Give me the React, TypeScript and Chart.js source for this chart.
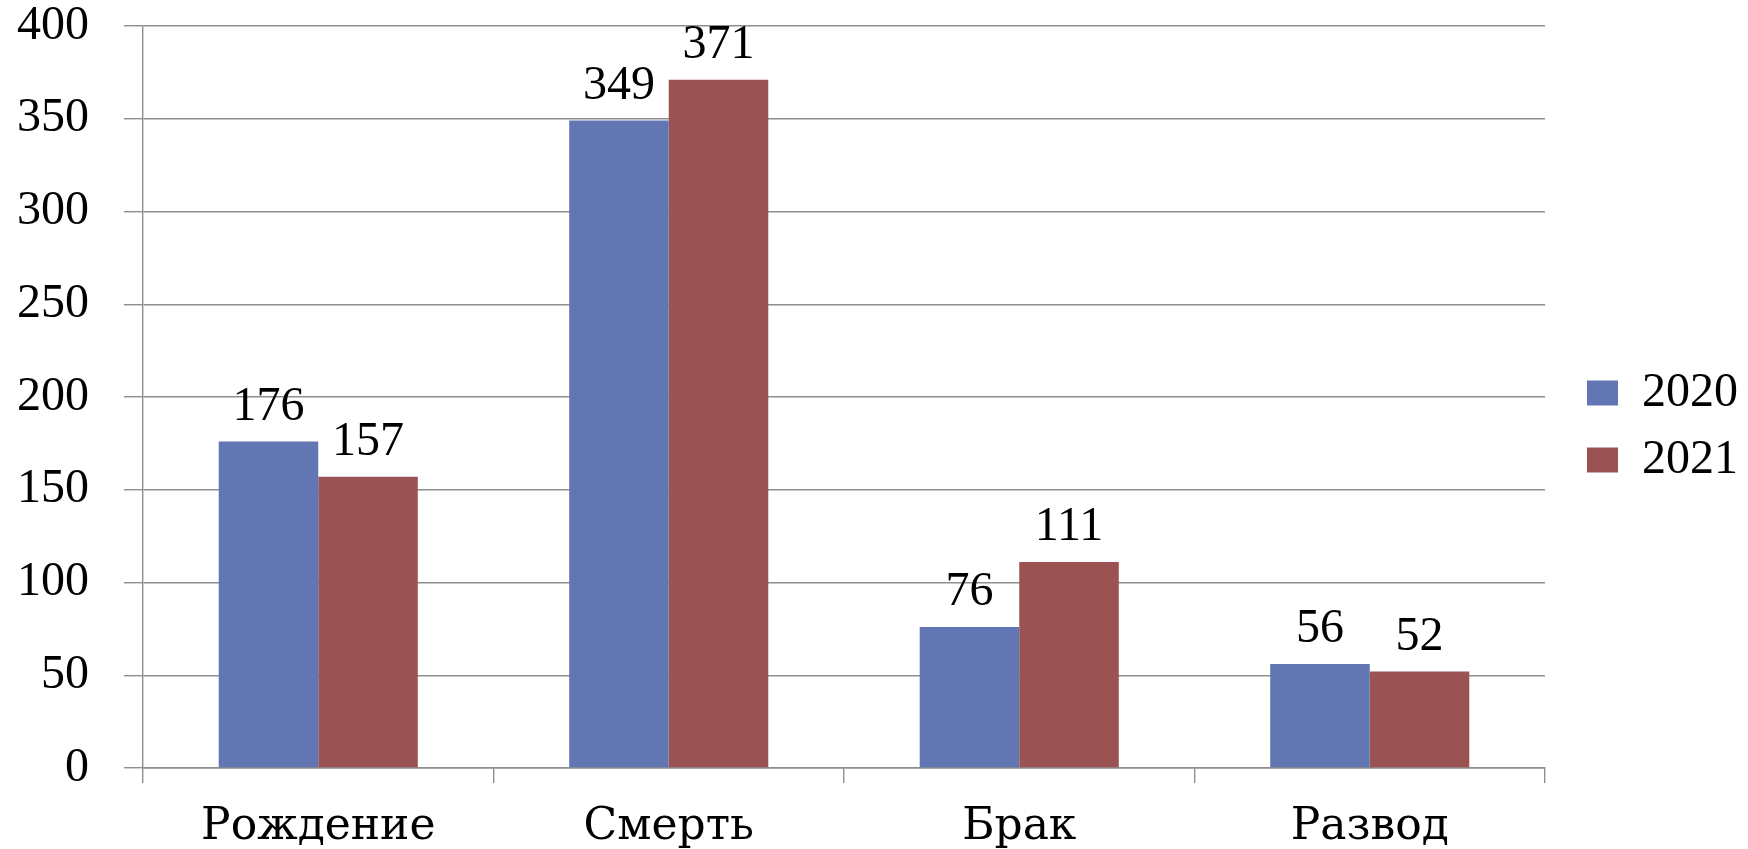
import React, { useEffect, useRef } from "react";
import { Chart, registerables } from "chart.js";

Chart.register(...registerables);

const categories = ["Рождение", "Смерть", "Брак", "Развод"];
const series2020 = [176, 349, 76, 56];
const series2021 = [157, 371, 111, 52];
const seriesLabels = ["2020", "2021"];
const yTicks = [0, 50, 100, 150, 200, 250, 300, 350, 400];

const CAT_FONT = "'DejaVu Serif', serif";
const NUM_FONT = "'Liberation Serif', serif";
const GRID = "#8e8e8e";

const valueLabels = {
  id: "valueLabels",
  afterDatasetsDraw(chart: any) {
    const ctx = chart.ctx;
    ctx.save();
    ctx.font = `48px ${NUM_FONT}`;
    ctx.fillStyle = "#000";
    ctx.textAlign = "center";
    ctx.textBaseline = "alphabetic";
    chart.data.datasets.forEach((ds: any, i: number) => {
      const meta = chart.getDatasetMeta(i);
      meta.data.forEach((bar: any, j: number) => {
        ctx.fillText(String(ds.data[j]), bar.x, bar.y - 22);
      });
    });
    ctx.restore();
  },
};

export default function App() {
  const ref = useRef<HTMLCanvasElement | null>(null);
  useEffect(() => {
    if (!ref.current) return;
    const chart = new Chart(ref.current, {
      type: "bar",
      data: {
        labels: categories,
        datasets: [
          { label: seriesLabels[0], data: series2020, backgroundColor: "#6176b3" },
          { label: seriesLabels[1], data: series2021, backgroundColor: "#9b5252" },
        ],
      },
      options: {
        animation: false,
        responsive: true,
        maintainAspectRatio: false,
        layout: { padding: { top: 4, left: 0, right: 0, bottom: 0 } },
        datasets: { bar: { categoryPercentage: 0.568, barPercentage: 1 } },
        plugins: {
          tooltip: { enabled: false },
          legend: {
            position: "right",
            align: "center",
            labels: {
              boxWidth: 31,
              boxHeight: 25,
              padding: 19,
              color: "#000",
              font: { family: NUM_FONT, size: 48 },
            },
          },
        },
        scales: {
          x: {
            grid: {
              offset: true,
              drawOnChartArea: false,
              drawTicks: true,
              tickLength: 15,
              color: GRID,
              lineWidth: 1.4,
            },
            border: { display: true, color: GRID, width: 1.4 },
            ticks: { color: "#000", font: { family: CAT_FONT, size: 44 }, padding: 18 },
            afterFit: (s: any) => {
              s.height = 81;
            },
          },
          y: {
            min: 0,
            max: 400,
            afterBuildTicks: (s: any) => {
              s.ticks = yTicks.map((v) => ({ value: v }));
            },
            grid: { color: GRID, lineWidth: 1.4, tickLength: 19 },
            border: { display: true, color: GRID, width: 1.4 },
            ticks: { color: "#000", font: { family: NUM_FONT, size: 48 }, padding: 35 },
            afterFit: (s: any) => {
              s.width = 143;
              s.paddingTop = 26;
              s.paddingBottom = 24;
            },
          },
          spacer: {
            type: "linear",
            position: "right",
            display: true,
            grid: { display: false },
            border: { display: false },
            ticks: { display: false },
            afterFit: (s: any) => {
              s.width = 23;
            },
          },
        },
      },
      plugins: [valueLabels],
    });
    return () => chart.destroy();
  }, []);
  return (
    <div style={{ position: "fixed", left: 0, top: 0, width: 1748, height: 849 }}>
      <canvas ref={ref} />
    </div>
  );
}
